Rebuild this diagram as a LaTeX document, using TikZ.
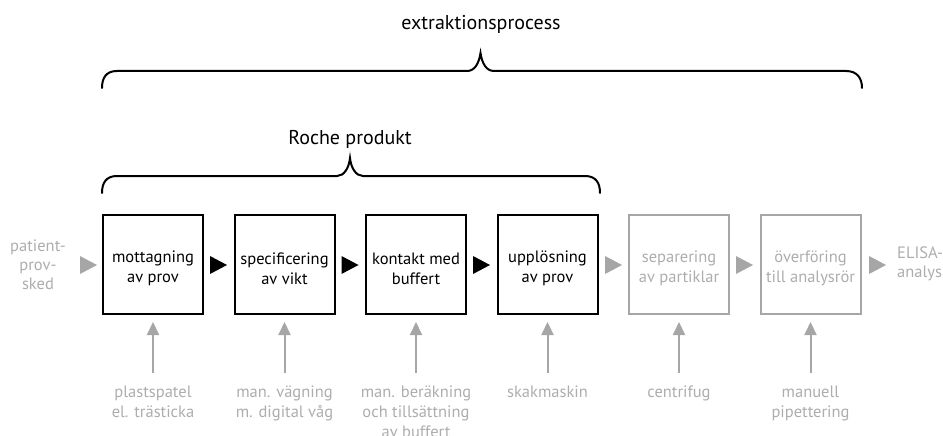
\documentclass[tikz,border=0pt]{standalone}
\usepackage{fontspec}
\setmainfont{PT Sans}
\usetikzlibrary{arrows.meta,calc}
\definecolor{lg}{gray}{0.65}
\definecolor{lgt}{gray}{0.68}
\begin{document}
\begin{tikzpicture}[x=1pt,y=-1pt,
 boxb/.style={draw=black,line width=2pt,minimum width=100pt,minimum height=99pt,inner sep=0pt,align=center,font=\fontsize{16.5}{20}\selectfont},
 boxg/.style={boxb,draw=lg,text=lgt},
 btxt/.style={inner sep=0pt,align=center,font=\fontsize{16.5}{20}\selectfont},
 lbl/.style={text=lgt,align=center,font=\fontsize{16.5}{20}\selectfont,inner sep=0pt,anchor=north},
 side/.style={text=lgt,inner sep=0pt,font=\fontsize{16.5}{19}\selectfont},
 garrow/.style={draw=lg,line width=2pt,-{Triangle[length=13pt,width=12pt]},shorten >=7pt,shorten <=13pt},
 brace/.style={line width=2pt,line cap=round},
 title/.style={font=\fontsize{20}{24}\selectfont,inner sep=0pt}
]
\useasboundingbox (0,0) rectangle (943,436);
% boxes
\node[boxb] (b1) at (153,264.5) {};
\node[boxb] (b2) at (284.5,264.5) {};
\node[boxb] (b3) at (416,264.5) {};
\node[boxb] (b4) at (547.5,264.5) {};
\node[boxg] (b5) at (679,264.5) {};
\node[boxg] (b6) at (810.5,264.5) {};
\node[btxt] (x1) at ([yshift=-4pt]b1.center) {mottagning\\av prov};
\node[btxt] (x2) at ([yshift=-4pt]b2.center) {specificering\\av vikt};
\node[btxt] (x3) at ([yshift=-4pt]b3.center) {kontakt med\\buffert};
\node[btxt] (x4) at ([yshift=-4pt]b4.center) {upplösning\\av prov};
\node[btxt,text=lgt] (x5) at ([yshift=-4pt]b5.center) {separering\\av partiklar};
\node[btxt,text=lgt] (x6) at ([yshift=-4pt]b6.center) {överföring\\till analysrör};
% side texts
\node[side,align=center] (src) at (38,265) {patient-\\prov-\\sked};
\node[side,align=left,anchor=west] (dst) at (897,264) {ELISA-\\analys};
% triangles
\coordinate (t0) at (88.5,265);
\coordinate (t1) at (218.5,265);
\coordinate (t2) at (350,265);
\coordinate (t3) at (481.5,265);
\coordinate (t4) at (613.5,265);
\coordinate (t5) at (744.5,265);
\coordinate (t6) at (877.5,265);
\foreach \t in {t1,t2,t3}{\fill[black] (\t) ++(-8.5,-9) -- ++(17,9) -- ++(-17,9) -- cycle;}
\foreach \t in {t0,t4,t5,t6}{\fill[lg] (\t) ++(-8.5,-9) -- ++(17,9) -- ++(-17,9) -- cycle;}
% labels below
\node[lbl] (l1) at (153,386) {plastspatel\\el. trästicka};
\node[lbl] (l2) at (284.5,386) {man. vägning\\m. digital våg};
\node[lbl] (l3) at (416,386) {man. beräkning\\och tillsättning\\av buffert};
\node[lbl] (l4) at (547.5,386) {skakmaskin};
\node[lbl] (l5) at (679,386) {centrifug};
\node[lbl] (l6) at (810.5,386) {manuell\\pipettering};
\foreach \i in {1,...,6}{\draw[garrow] (l\i.north) -- (b\i.south);}
% braces
\draw[brace] (102,88) .. controls (102,78) and (106,71) .. (117,71) -- (467,71)
  .. controls (475,71) and (479,63) .. (480.5,53)
  .. controls (482,63) and (486,71) .. (494,71) -- (846,71)
  .. controls (857,71) and (862,78) .. (862,88);
\draw[brace] (102,193) .. controls (102,183) and (106,176) .. (117,176) -- (337,176)
  .. controls (344,176) and (349,168) .. (350,158)
  .. controls (351,168) and (356,176) .. (363,176) -- (585,176)
  .. controls (596,176) and (600,183) .. (600,193);
\node[title] (big) at (481,24) {extraktionsprocess};
\node[title] (roche) at (350,139) {Roche produkt};
\end{tikzpicture}
\end{document}
